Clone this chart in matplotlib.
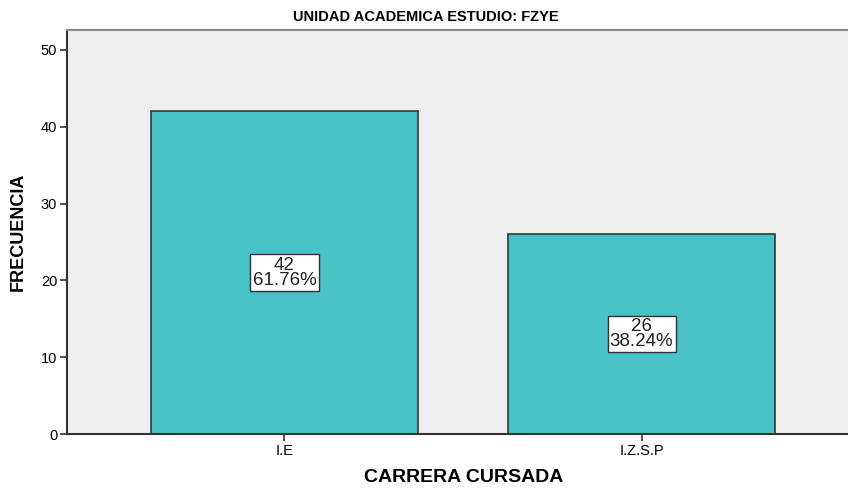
import matplotlib.pyplot as plt
import numpy as np

plt.rcParams['font.family'] = ['Liberation Sans', 'DejaVu Sans']

carreras = ["I.E", "I.Z.S.P"]
frecuencia = [42, 26]
porcentaje = ["61.76%", "38.24%"]

fig = plt.figure(figsize=(8.48, 4.88), dpi=100)
ax = fig.add_axes([67 / 848, 54 / 488, 1 - 67 / 848, 404 / 488])
ax.set_facecolor("#efefef")

x = np.arange(len(carreras))
ax.bar(x, frecuencia, 0.748, color="#48c2c6", edgecolor="#2f3b3b", linewidth=1.2, zorder=2)

for xi, f, p in zip(x, frecuencia, porcentaje):
    ax.text(xi, f / 2, f"{f}\n{p}", ha="center", va="center", fontsize=13.5,
            color="#222222", linespacing=0.85, zorder=3,
            bbox=dict(boxstyle="square,pad=0.12", facecolor="white", edgecolor="#333333", linewidth=1))

ax.set_xlim(-0.609, 1.578)
ax.set_ylim(0, 52.6)
ax.set_yticks([0, 10, 20, 30, 40, 50])
ax.set_xticks(x)
ax.set_xticklabels(carreras)
ax.tick_params(axis="both", labelsize=10.5, length=5, width=1.2, color="#333333", pad=2)

ax.spines["right"].set_visible(False)
ax.spines["top"].set_color("#888888")
ax.spines["top"].set_linewidth(1.5)
ax.spines["left"].set_color("#333333")
ax.spines["left"].set_linewidth(1.5)
ax.spines["bottom"].set_color("#333333")
ax.spines["bottom"].set_linewidth(1.5)

ax.set_xlabel("CARRERA CURSADA", fontsize=14, fontweight="bold", va="center")
ax.xaxis.set_label_coords(0.508, -0.108)
ax.set_ylabel("FRECUENCIA", fontsize=13, fontweight="bold")
ax.yaxis.set_label_coords(-0.051, 0.5)
fig.text(0.502, 0.965, "UNIDAD ACADEMICA ESTUDIO: FZYE", ha="center", va="center",
         fontsize=10.5, fontweight="bold")

fig.savefig("out.png", dpi=100)
